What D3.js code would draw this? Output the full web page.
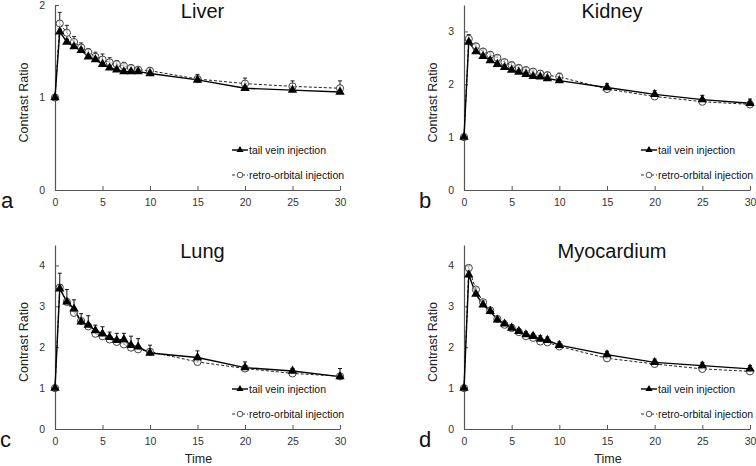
<!DOCTYPE html>
<html>
<head>
<meta charset="utf-8">
<script src="https://cdn.jsdelivr.net/npm/d3@7"></script>
<style>
  html, body { margin: 0; padding: 0; background: #fff; }
  svg { display: block; }
  text { font-family: "Liberation Sans", Arial, sans-serif; }
</style>
</head>
<body>
<svg id="chart" width="756" height="466"></svg>
<script>
// ---- data ----
const times = [0, 0.5, 1.25, 2, 2.75, 3.5, 4.25, 5, 5.75, 6.5, 7.25, 8, 8.75, 10, 15, 20, 25, 30];
const xTicks = [0, 5, 10, 15, 20, 25, 30];
const seriesNames = ["tail vein injection", "retro-orbital injection"];
const organs = ["Liver", "Kidney", "Lung", "Myocardium"];
const panelLetters = ["a", "b", "c", "d"];
const yMax = [2, 3.5, 4.5, 4.5];
const yTicksLiver = [0, 1, 2];
const yTicksKidney = [0, 1, 2, 3];
const yTicksOther = [0, 1, 2, 3, 4];

const liverTail  = [1.00, 1.71, 1.60, 1.55, 1.51, 1.44, 1.41, 1.36, 1.32, 1.30, 1.28, 1.28, 1.28, 1.26, 1.19, 1.10, 1.08, 1.06];
const liverRetro = [1.00, 1.80, 1.70, 1.60, 1.54, 1.49, 1.44, 1.41, 1.38, 1.36, 1.34, 1.32, 1.30, 1.29, 1.20, 1.15, 1.12, 1.10];
const liverTailErr  = [0, 0.03, 0.03, 0.03, 0.03, 0.03, 0.03, 0.03, 0.03, 0.03, 0.03, 0.03, 0.03, 0.03, 0.03, 0.03, 0.03, 0.03];
const liverRetroErr = [0, 0.12, 0.08, 0.06, 0.05, 0.04, 0.05, 0.06, 0.05, 0.04, 0.04, 0.03, 0.02, 0.03, 0.05, 0.06, 0.06, 0.08];

const kidneyTail  = [1.00, 2.80, 2.62, 2.53, 2.45, 2.38, 2.32, 2.27, 2.23, 2.19, 2.15, 2.14, 2.11, 2.07, 1.94, 1.81, 1.71, 1.64];
const kidneyRetro = [1.00, 2.86, 2.72, 2.62, 2.56, 2.50, 2.42, 2.36, 2.31, 2.27, 2.24, 2.20, 2.17, 2.14, 1.91, 1.77, 1.67, 1.62];
const kidneyTailErr  = [0, 0.04, 0.04, 0.04, 0.04, 0.04, 0.04, 0.04, 0.04, 0.04, 0.04, 0.04, 0.04, 0.04, 0.07, 0.07, 0.08, 0.08];
const kidneyRetroErr = [0, 0.08, 0.05, 0.05, 0.05, 0.05, 0.05, 0.06, 0.05, 0.05, 0.05, 0.06, 0.06, 0.07, 0.03, 0.03, 0.03, 0.03];

const lungTail  = [1.00, 3.43, 3.11, 2.94, 2.62, 2.54, 2.41, 2.33, 2.24, 2.17, 2.19, 2.05, 2.01, 1.86, 1.75, 1.50, 1.42, 1.28];
const lungRetro = [1.00, 3.46, 3.11, 2.84, 2.64, 2.51, 2.33, 2.27, 2.19, 2.13, 2.07, 1.99, 1.95, 1.89, 1.64, 1.48, 1.36, 1.29];
const lungTailErr  = [0, 0.38, 0.30, 0.22, 0.20, 0.23, 0.13, 0.17, 0.13, 0.17, 0.15, 0.22, 0.20, 0.19, 0.16, 0.14, 0.06, 0.20];
const lungRetroErr = [0, 0.04, 0.04, 0.04, 0.04, 0.04, 0.04, 0.04, 0.04, 0.04, 0.04, 0.04, 0.04, 0.04, 0.04, 0.04, 0.04, 0.04];

const myoTail  = [1.00, 3.77, 3.30, 3.04, 2.88, 2.67, 2.57, 2.47, 2.39, 2.31, 2.27, 2.20, 2.17, 2.05, 1.82, 1.63, 1.55, 1.47];
const myoRetro = [1.00, 3.94, 3.41, 3.10, 2.90, 2.69, 2.55, 2.47, 2.37, 2.27, 2.23, 2.14, 2.12, 2.02, 1.73, 1.59, 1.47, 1.41];
const myoTailErr  = [0, 0.08, 0.06, 0.07, 0.07, 0.07, 0.07, 0.08, 0.06, 0.07, 0.07, 0.08, 0.08, 0.08, 0.08, 0.08, 0.08, 0.08];
const myoRetroErr = [0, 0.05, 0.04, 0.04, 0.04, 0.04, 0.04, 0.04, 0.04, 0.04, 0.04, 0.04, 0.04, 0.04, 0.04, 0.04, 0.04, 0.04];

const tailData  = [liverTail, kidneyTail, lungTail, myoTail];
const retroData = [liverRetro, kidneyRetro, lungRetro, myoRetro];
const tailErr   = [liverTailErr, kidneyTailErr, lungTailErr, myoTailErr];
const retroErr  = [liverRetroErr, kidneyRetroErr, lungRetroErr, myoRetroErr];
const yTickSets = [yTicksLiver, yTicksKidney, yTicksOther, yTicksOther];

// ---- layout ----
const svg = d3.select("#chart");
const panels = [
  { left: 55,  right: 340, top: 5,   bottom: 190, letterX: 1,   showTime: false },
  { left: 464, right: 750, top: 5,   bottom: 190, letterX: 419, showTime: false },
  { left: 55,  right: 340, top: 245, bottom: 429, letterX: 0,   showTime: true },
  { left: 464, right: 750, top: 245, bottom: 429, letterX: 419, showTime: true }
];

const axisColor = "#555";

panels.forEach((p, i) => {
  const g = svg.append("g");
  const x = d3.scaleLinear().domain([0, 30]).range([p.left, p.right]);
  const y = d3.scaleLinear().domain([0, yMax[i]]).range([p.bottom, p.top]);
  const yt = yTickSets[i];

  // x axis (ticks inward)
  const xa = g.append("g").attr("transform", `translate(0,${p.bottom})`)
    .call(d3.axisBottom(x).tickValues(xTicks).tickSizeInner(-4).tickSizeOuter(0).tickPadding(9));
  // y axis (ticks inward)
  const ya = g.append("g").attr("transform", `translate(${p.left},0)`)
    .call(d3.axisLeft(y).tickValues(yt).tickSizeInner(-4).tickSizeOuter(0).tickPadding(10).tickFormat(d3.format("d")));
  [xa, ya].forEach(a => {
    a.select(".domain").attr("stroke", axisColor).attr("stroke-width", 1.2);
    a.selectAll(".tick line").attr("stroke", axisColor);
    a.selectAll(".tick text").attr("fill", "#333").style("font-size", "10.5px")
      .style("font-family", "'Liberation Sans', Arial, sans-serif");
  });

  // Title
  g.append("text").attr("x", (p.left + p.right) / 2 + 5).attr("y", p.top + 13)
    .attr("text-anchor", "middle").style("font-size", "20px").attr("fill", "#111").text(organs[i]);
  // Panel letter
  g.append("text").attr("x", p.letterX).attr("y", p.bottom + 18)
    .style("font-size", "22px").attr("fill", "#111").text(panelLetters[i]);
  // Y label
  g.append("text")
    .attr("transform", `translate(${p.left - 27},${(p.top + p.bottom) / 2 + 5}) rotate(-90)`)
    .attr("text-anchor", "middle").style("font-size", "12.5px").attr("fill", "#222").text("Contrast Ratio");
  if (p.showTime) {
    g.append("text").attr("x", (p.left + p.right) / 2 + 1).attr("y", p.bottom + 34)
      .attr("text-anchor", "middle").style("font-size", "12.5px").attr("fill", "#222").text("Time");
  }

  const line = d3.line().x((d, k) => x(times[k])).y(d => y(d));

  // error bars (upward)
  const drawErr = (vals, errs, color) => {
    const eg = g.append("g").attr("stroke", color).attr("stroke-width", 1);
    vals.forEach((v, k) => {
      if (!errs[k]) return;
      eg.append("line").attr("x1", x(times[k])).attr("x2", x(times[k]))
        .attr("y1", y(v)).attr("y2", y(v + errs[k]));
      eg.append("line").attr("x1", x(times[k]) - 2).attr("x2", x(times[k]) + 2)
        .attr("y1", y(v + errs[k])).attr("y2", y(v + errs[k]));
    });
  };
  drawErr(retroData[i], retroErr[i], "#222");
  drawErr(tailData[i], tailErr[i], "#111");

  // retro line (dashed)
  g.append("path").datum(retroData[i]).attr("d", line)
    .attr("fill", "none").attr("stroke", "#222").attr("stroke-width", 1).attr("stroke-dasharray", "3,2");
  // tail line (solid)
  g.append("path").datum(tailData[i]).attr("d", line)
    .attr("fill", "none").attr("stroke", "#000").attr("stroke-width", 1.4);

  // retro markers: open circles
  g.append("g").selectAll("circle").data(retroData[i]).join("circle")
    .attr("cx", (d, k) => x(times[k])).attr("cy", d => y(d)).attr("r", 3.6)
    .attr("fill", "white").attr("fill-opacity", 0.6).attr("stroke", "#444").attr("stroke-width", 1);
  // tail markers: filled triangles
  const tri = d3.symbol().type(d3.symbolTriangle).size(38);
  g.append("g").selectAll("path").data(tailData[i]).join("path")
    .attr("d", tri).attr("transform", (d, k) => `translate(${x(times[k])},${y(d)})`)
    .attr("fill", "#000");

  // legend
  const lx = p.left + 177, ly1 = p.bottom - 40, ly2 = p.bottom - 15;
  g.append("line").attr("x1", lx).attr("x2", lx + 16).attr("y1", ly1).attr("y2", ly1)
    .attr("stroke", "#000").attr("stroke-width", 1.4);
  g.append("path").attr("d", d3.symbol().type(d3.symbolTriangle).size(22))
    .attr("transform", `translate(${lx + 8},${ly1})`).attr("fill", "#000");
  g.append("text").attr("x", lx + 17).attr("y", ly1 + 4).style("font-size", "10.5px").attr("fill", "#111").text(seriesNames[0]);
  g.append("line").attr("x1", lx).attr("x2", lx + 16).attr("y1", ly2).attr("y2", ly2)
    .attr("stroke", "#333").attr("stroke-width", 1).attr("stroke-dasharray", "3,2");
  g.append("circle").attr("cx", lx + 8).attr("cy", ly2).attr("r", 2.8)
    .attr("fill", "white").attr("stroke", "#555").attr("stroke-width", 1);
  g.append("text").attr("x", lx + 17).attr("y", ly2 + 4).style("font-size", "10.5px").attr("fill", "#111").text(seriesNames[1]);
});
</script>
</body>
</html>
